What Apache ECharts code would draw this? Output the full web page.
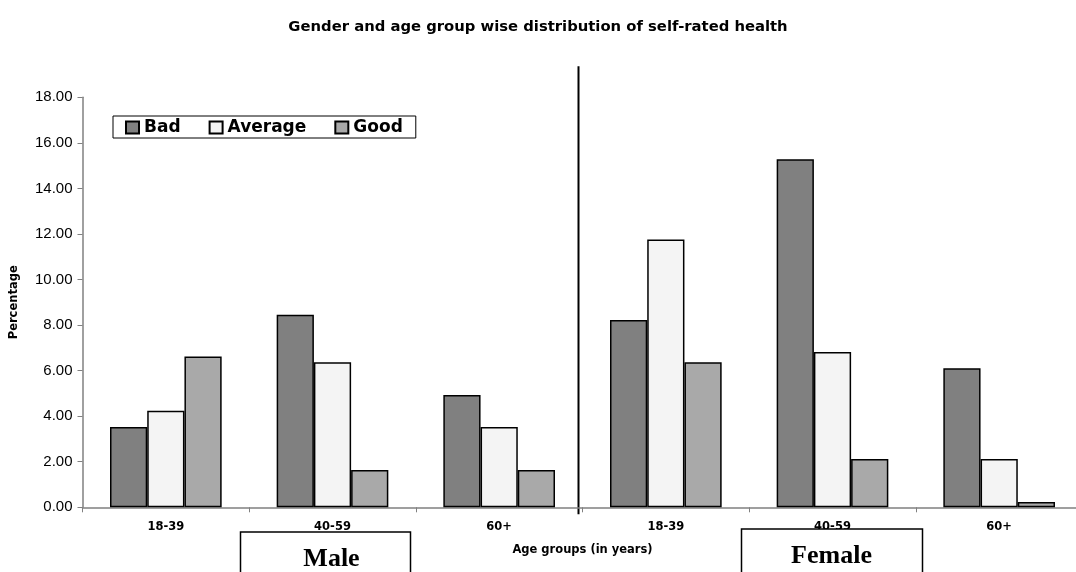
<!DOCTYPE html>
<html>
<head>
<meta charset="utf-8">
<script src="https://cdn.jsdelivr.net/npm/echarts@6/dist/echarts.min.js"></script>
<style>html,body{margin:0;padding:0;background:#fff}#c{width:1076px;height:572px}</style>
</head>
<body>
<div id="c"></div>
<script>
const genders = ['Male', 'Female'];
const ageGroups = ['18-39', '40-59', '60+'];
const seriesNames = ['Bad', 'Average', 'Good'];
const bad = [3.53, 8.45, 4.93, 8.22, 15.28, 6.10];
const average = [4.24, 6.37, 3.52, 11.76, 6.82, 2.12];
const good = [6.62, 1.64, 1.64, 6.37, 2.12, 0.23];
const yTicks = [0, 2, 4, 6, 8, 10, 12, 14, 16, 18];

const categories = [];
genders.forEach(g => ageGroups.forEach(a => categories.push(g + '|' + a)));

const chart = echarts.init(document.getElementById('c'), null, {renderer: 'canvas'});
const colors = ['#808080', '#f4f4f4', '#a9a9a9'];
const values = [bad, average, good];
const wide = 'DejaVu Sans, Verdana, sans-serif';
const arial = 'Liberation Sans, Arial, sans-serif';
const serif = 'Liberation Serif, Times New Roman, serif';

chart.setOption({
  animation: false,
  backgroundColor: '#fff',
  title: {
    text: 'Gender and age group wise distribution of self-rated health',
    left: 'center', top: 15,
    textStyle: {fontFamily: wide, fontSize: 14.8, fontWeight: 'bold', color: '#000'}
  },
  legend: {
    data: seriesNames,
    left: 113, top: 116,
    padding: [3, 13, 2, 12],
    itemGap: 28,
    itemWidth: 13, itemHeight: 12,
    icon: 'rect',
    borderColor: '#000', borderWidth: 1,
    textStyle: {fontFamily: wide, fontSize: 17, fontWeight: 'bold', color: '#000'}
  },
  grid: {left: 82.5, top: 97.3, width: 1000, height: 410, outerBoundsMode: 'none', containLabel: false},
  xAxis: {
    type: 'category',
    data: categories,
    name: 'Age groups (in years)', nameLocation: 'middle', nameGap: 37,
    nameTextStyle: {fontFamily: wide, fontSize: 11.5, fontWeight: 'bold', color: '#000'},
    axisLine: {lineStyle: {color: '#808080', width: 1.5}},
    axisTick: {show: true, length: 5, inside: false, lineStyle: {color: '#808080'}},
    axisLabel: {
      fontFamily: wide, fontSize: 11.5, fontWeight: 'bold', color: '#000', margin: 14,
      formatter: v => v.split('|')[1]
    }
  },
  yAxis: {
    type: 'value', min: yTicks[0], max: yTicks[yTicks.length - 1], interval: 2,
    name: 'Percentage', nameLocation: 'middle', nameGap: 62, nameRotate: 90,
    nameTextStyle: {fontFamily: wide, fontSize: 11.5, fontWeight: 'bold', color: '#000'},
    axisLine: {show: true, lineStyle: {color: '#808080', width: 1.5}},
    axisTick: {show: true, length: 5, lineStyle: {color: '#808080'}},
    splitLine: {show: false},
    axisLabel: {fontFamily: arial, fontSize: 15, color: '#000', margin: 10, formatter: v => v.toFixed(2)}
  },
  series: seriesNames.map((n, i) => ({
    name: n, type: 'bar', data: values[i],
    barGap: '0%', barCategoryGap: '33%',
    itemStyle: {color: colors[i], borderColor: '#000', borderWidth: 1.5}
  }))
});

function addGraphics() {
  const xL = chart.convertToPixel({xAxisIndex: 0}, 2);
  const xR = chart.convertToPixel({xAxisIndex: 0}, 3);
  const sepX = (xL + xR) / 2;
  const y0 = chart.convertToPixel({yAxisIndex: 0}, 0);
  const yTop = chart.convertToPixel({yAxisIndex: 0}, yTicks[yTicks.length - 1]);
  const maleX = chart.convertToPixel({xAxisIndex: 0}, 1);
  const femaleX = chart.convertToPixel({xAxisIndex: 0}, 4);
  chart.setOption({
    graphic: [
      {type: 'line', shape: {x1: sepX - 4, y1: yTop - 31, x2: sepX - 4, y2: y0 + 7}, style: {stroke: '#000', lineWidth: 2}},
      {type: 'rect', shape: {x: maleX - 92, y: 532, width: 170, height: 50}, style: {fill: '#fff', stroke: '#000', lineWidth: 1.5}, z: 10},
      {type: 'text', x: maleX - 1, y: 559, z: 11, style: {text: genders[0], font: 'bold 26px ' + serif, fill: '#000', textAlign: 'center', textVerticalAlign: 'middle'}},
      {type: 'rect', shape: {x: femaleX - 91, y: 529, width: 181, height: 50}, style: {fill: '#fff', stroke: '#000', lineWidth: 1.5}, z: 10},
      {type: 'text', x: femaleX - 1, y: 556, z: 11, style: {text: genders[1], font: 'bold 26px ' + serif, fill: '#000', textAlign: 'center', textVerticalAlign: 'middle'}}
    ]
  });
}
addGraphics();
</script>
</body>
</html>
